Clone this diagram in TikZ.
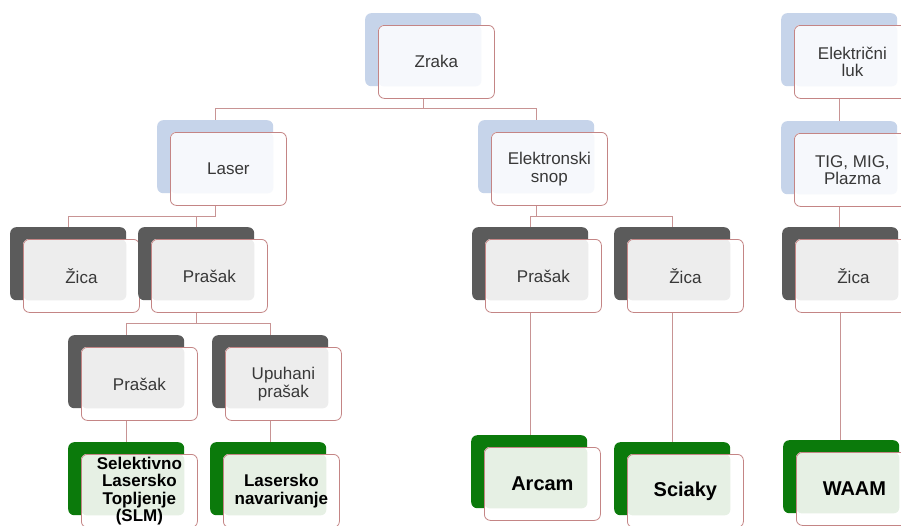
\documentclass[tikz,border=0pt]{standalone}
\usepackage{fontspec}
\setmainfont{Liberation Sans}
\definecolor{bblue}{HTML}{C6D4EA}
\definecolor{bgray}{HTML}{5B5B5B}
\definecolor{bgreen}{HTML}{0B7A0B}
\definecolor{tblue}{HTML}{F6F8FC}
\definecolor{tgray}{HTML}{EDEDED}
\definecolor{tgreen}{HTML}{E6F0E4}
\definecolor{edgecol}{HTML}{C48585}
\definecolor{conncol}{HTML}{C89494}
\definecolor{txtcol}{HTML}{383838}
\tikzset{
 backbox/.style={rectangle, rounded corners=6pt, minimum width=116pt, minimum height=73pt, inner sep=0pt, anchor=north west},
 whitebox/.style={backbox, fill=white},
 frontbox/.style={backbox, draw=edgecol, line width=0.8pt, align=center},
 norm/.style={font=\fontsize{17}{17.5}\selectfont, text=txtcol},
 boldsm/.style={font=\fontsize{17}{17.5}\selectfont\bfseries, text=black},
 boldbig/.style={font=\fontsize{20}{21}\selectfont\bfseries, text=black},
 conn/.style={draw=conncol, line width=0.8pt},
}
\newcommand\elem[7]{%
 \node[backbox, fill=#4] (#1B) at (#2,#3) {};
 \node[whitebox] (#1W) at (#2+13,#3+12) {};
 \fill[#5, rounded corners=6pt] (#1W.north west) rectangle (#1B.south east);
 \node[frontbox, #6] (#1) at (#2+13,#3+12) {#7};
}
\begin{document}
\begin{tikzpicture}[x=1pt, y=-1pt]
\useasboundingbox (0,0) rectangle (901,525);
\clip (0,0) rectangle (901,525);
\fill[white] (0,0) rectangle (901,525);
% level 1
\elem{Zraka}{365}{13}{bblue}{tblue}{norm}{Zraka}
\elem{Luk}{781}{13}{bblue}{tblue}{norm}{Električni\\luk}
% level 2
\elem{Laser}{157}{120}{bblue}{tblue}{norm}{Laser}
\elem{Elek}{478}{120}{bblue}{tblue}{norm}{Elektronski\\snop}
\elem{Tig}{781}{121}{bblue}{tblue}{norm}{TIG, MIG,\\Plazma}
% level 3
\elem{ZicaL}{10}{227}{bgray}{tgray}{norm}{Žica}
\elem{PrasL}{138}{227}{bgray}{tgray}{norm}{Prašak}
\elem{PrasE}{472}{227}{bgray}{tgray}{norm}{Prašak}
\elem{ZicaE}{614}{227}{bgray}{tgray}{norm}{Žica}
\elem{ZicaR}{782}{227}{bgray}{tgray}{norm}{Žica}
% level 4
\elem{PrasS}{68}{335}{bgray}{tgray}{norm}{Prašak}
\elem{Upuh}{212}{335}{bgray}{tgray}{norm}{Upuhani\\prašak}
% level 5
\elem{Slm}{68}{442}{bgreen}{tgreen}{boldsm}{Selektivno\\Lasersko\\Topljenje\\(SLM)}
\elem{Nav}{210}{442}{bgreen}{tgreen}{boldsm}{Lasersko\\navarivanje}
\elem{Arcam}{471}{435}{bgreen}{tgreen}{boldbig}{Arcam}
\elem{Sciaky}{614}{442}{bgreen}{tgreen}{boldbig}{Sciaky}
\elem{Waam}{783}{440}{bgreen}{tgreen}{boldbig}{WAAM}
% connectors
\draw[conn] (ZrakaB.center |- Zraka.south) -- ++(0,10) -| (LaserB.north);
\draw[conn] (ZrakaB.center |- Zraka.south) -- ++(0,10) -| (ElekB.north);
\draw[conn] (LaserB.center |- Laser.south) -- ++(0,11) -| (ZicaLB.north);
\draw[conn] (LaserB.center |- Laser.south) -- ++(0,11) -| (PrasLB.north);
\draw[conn] (ElekB.center |- Elek.south) -- ++(0,11) -| (PrasEB.north);
\draw[conn] (ElekB.center |- Elek.south) -- ++(0,11) -| (ZicaEB.north);
\draw[conn] (PrasLB.center |- PrasL.south) -- ++(0,11) -| (PrasSB.north);
\draw[conn] (PrasLB.center |- PrasL.south) -- ++(0,11) -| (UpuhB.north);
\draw[conn] (PrasSB.center |- PrasS.south) -- (PrasSB.center |- SlmB.north);
\draw[conn] (UpuhB.center |- Upuh.south) -- (UpuhB.center |- NavB.north);
\draw[conn] (PrasEB.center |- PrasE.south) -- (PrasEB.center |- ArcamB.north);
\draw[conn] (ZicaEB.center |- ZicaE.south) -- (ZicaEB.center |- SciakyB.north);
\draw[conn] (LukB.center |- Luk.south) -- (LukB.center |- TigB.north);
\draw[conn] (TigB.center |- Tig.south) -- (TigB.center |- ZicaRB.north);
\draw[conn] (ZicaRB.center |- ZicaR.south) -- (ZicaRB.center |- WaamB.north);
\end{tikzpicture}
\end{document}
